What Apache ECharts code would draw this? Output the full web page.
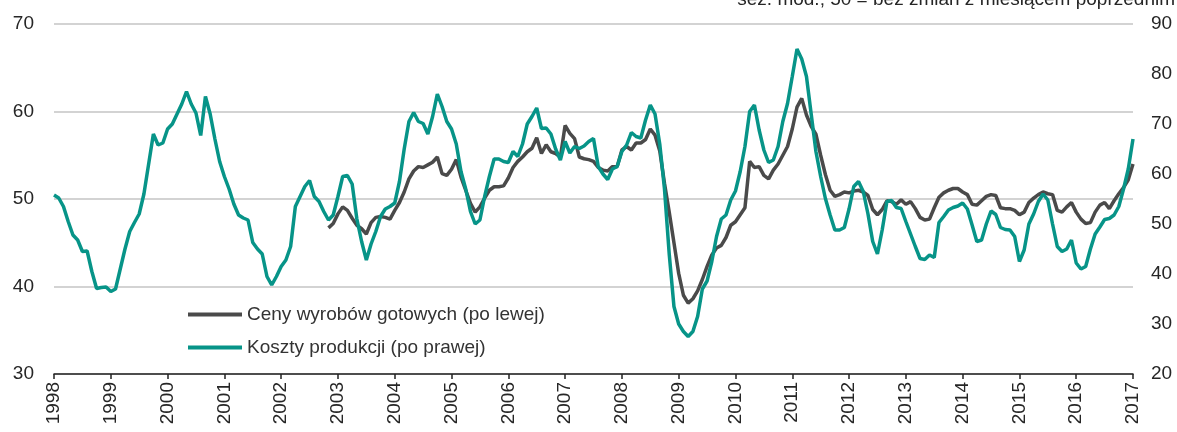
<!DOCTYPE html>
<html>
<head>
<meta charset="utf-8">
<script src="https://cdn.jsdelivr.net/npm/echarts@6/dist/echarts.min.js"></script>
<style>
  html, body { margin: 0; padding: 0; background: #fff; }
  #chart { width: 1177px; height: 432px; }
</style>
</head>
<body>
<div id="chart"></div>
<script>
// miesiace od 1998-01 do 2017-01
const firstYear = 1998
const lastYear = 2017
const months = []
for (let y = firstYear; y <= lastYear; y++) {
  for (let m = 1; m <= 12; m++) {
    if (y === lastYear && m > 1) break
    months.push(y + '-' + (m < 10 ? '0' + m : m))
  }
}

const nameCeny = 'Ceny wyrobów gotowych (po lewej)'
const nameKoszty = 'Koszty produkcji (po prawej)'
const noteText = 'sez. mod.; 50 = bez zmian z miesiącem poprzednim'

// ceny wyrobow gotowych - od 2002-11 (lewa os)
const cenyStart = '2002-11'
const ceny = [
  46.7, 47.2,
  48.3, 49.1, 48.7, 47.8, 47.0, 46.6, 46.0, 47.3, 47.9, 48.0, 47.9, 47.7,
  48.7, 49.6, 50.8, 52.3, 53.2, 53.7, 53.6, 53.9, 54.2, 54.8, 52.9, 52.7,
  53.4, 54.5, 52.5, 51.0, 49.5, 48.5, 49.1, 50.1, 51.0, 51.4, 51.4, 51.5,
  52.4, 53.6, 54.3, 54.8, 55.4, 55.8, 57.0, 55.2, 56.2, 55.4, 55.2, 54.8,
  58.4, 57.5, 56.9, 54.8, 54.6, 54.5, 54.3, 53.6, 53.3, 53.2, 53.7, 53.7,
  55.6, 56.0, 55.6, 56.4, 56.4, 56.8, 58.0, 57.3, 55.5, 51.8, 48.5, 45.0,
  41.5, 39.0, 38.1, 38.6, 39.5, 40.8, 42.3, 43.6, 44.4, 44.7, 45.6, 47.0,
  47.4, 48.2, 49.0, 54.3, 53.6, 53.7, 52.7, 52.3, 53.3, 54.0, 55.0, 56.0,
  58.0, 60.5, 61.5, 59.6, 58.3, 57.4, 55.0, 52.8, 51.0, 50.3, 50.5, 50.8,
  50.7, 50.9, 51.0, 50.8, 50.4, 48.8, 48.2, 48.8, 49.8, 49.7, 49.4, 49.9,
  49.4, 49.7, 48.9, 47.9, 47.6, 47.7, 49.0, 50.2, 50.7, 51.0, 51.2, 51.2,
  50.8, 50.5, 49.4, 49.3, 49.8, 50.3, 50.5, 50.4, 49.0, 48.9, 48.9, 48.7,
  48.2, 48.5, 49.6, 50.1, 50.5, 50.8, 50.6, 50.5, 48.7, 48.5, 49.1, 49.6,
  48.5, 47.7, 47.2, 47.3, 48.5, 49.3, 49.6, 48.9, 49.8, 50.6, 51.3, 52.2,
  54.0
]

// koszty produkcji - od 1998-01 (prawa os)
const koszty = [
  55.8, 55.2, 53.5, 50.5, 47.8, 46.8, 44.5, 44.6, 40.5, 37.1, 37.3, 37.4,
  36.5, 37.0, 41.0, 45.0, 48.5, 50.3, 52.0, 56.0, 62.0, 68.0, 65.8, 66.2,
  69.0, 70.0, 72.0, 74.0, 76.5, 74.0, 72.2, 67.7, 75.5, 72.0, 67.0, 62.5,
  59.5, 57.0, 54.0, 51.8, 51.2, 50.8, 46.3, 45.0, 44.0, 39.5, 37.8, 39.5,
  41.5, 42.8, 45.5, 53.5, 55.5, 57.5, 58.7, 55.5, 54.5, 52.5, 50.8, 51.8,
  55.5, 59.5, 59.7, 58.0, 51.0, 46.5, 42.8, 46.0, 48.5, 51.5, 53.0, 53.5,
  54.2, 58.5, 65.0, 70.5, 72.3, 70.5, 70.1, 68.0, 71.5, 76.0, 73.5, 70.5,
  69.0, 66.0, 60.5, 57.0, 52.5, 50.0, 50.8, 55.5, 59.5, 63.0, 63.0, 62.5,
  62.3, 64.5, 63.5, 66.0, 70.0, 71.5, 73.2, 69.1, 69.2, 68.0, 65.0, 62.8,
  66.5, 64.2, 65.5, 65.1, 65.6, 66.5, 67.1, 61.5, 60.0, 58.9, 61.0, 61.5,
  64.5, 65.8, 68.3, 67.5, 67.2, 70.8, 73.8, 72.0, 66.0, 57.0, 44.0, 33.5,
  30.0, 28.5, 27.5, 28.5, 31.5, 37.0, 38.6, 42.5, 47.5, 51.0, 51.8, 54.8,
  56.6, 60.5, 65.5, 72.5, 73.8, 68.8, 64.8, 62.3, 62.8, 65.5, 70.5, 74.1,
  79.5, 85.0, 83.0, 79.5, 72.0, 64.5, 59.5, 55.1, 51.8, 48.8, 48.8, 49.3,
  53.0, 57.5, 58.5, 56.5, 52.0, 46.5, 44.0, 48.8, 54.5, 54.7, 53.3, 53.1,
  50.5, 48.0, 45.5, 43.1, 42.9, 43.8, 43.3, 50.3, 51.5, 52.8, 53.3, 53.6,
  54.2, 53.0, 49.8, 46.5, 46.8, 50.0, 52.6, 51.9, 49.3, 48.9, 48.8, 47.5,
  42.5, 44.8, 50.0, 52.0, 54.5, 56.0, 54.8, 50.0, 45.5, 44.5, 45.0, 46.8,
  42.2, 41.0, 41.5, 45.0, 48.0, 49.4, 50.9, 51.1, 51.8, 53.5, 57.0, 61.0,
  67.0
]

// dopelnienie pustymi wartosciami przed startem serii
const cenyData = months.map((m, i) => {
  const k = i - months.indexOf(cenyStart)
  return k >= 0 && k < ceny.length ? ceny[k] : null
})

const isJan = (idx, val) => val.slice(5) === '01'

const chart = echarts.init(document.getElementById('chart'))
const option = {
  animation: false,
  textStyle: { fontFamily: 'Liberation Sans, Arial, sans-serif' },
  grid: { left: 54, right: 44, top: 24, bottom: 58 },
  graphic: [
    {
      type: 'text',
      right: 2,
      top: -10,
      style: { text: noteText, fontSize: 19, fill: '#262626', fontFamily: 'Liberation Sans, Arial, sans-serif' }
    }
  ],
  legend: {
    data: [nameCeny, nameKoszty],
    orient: 'vertical',
    left: 183,
    top: 300,
    itemWidth: 54,
    itemHeight: 4,
    itemGap: 14,
    icon: 'rect',
    textStyle: { fontSize: 19, color: '#333' }
  },
  xAxis: {
    type: 'category',
    data: months,
    boundaryGap: false,
    axisLine: { lineStyle: { color: '#222', width: 1.5 } },
    axisTick: { interval: isJan, length: 5, lineStyle: { color: '#222', width: 1.5 } },
    axisLabel: {
      interval: isJan,
      formatter: (v) => v.slice(0, 4),
      rotate: 90,
      margin: 8,
      fontSize: 19,
      color: '#262626'
    },
    splitLine: { show: false }
  },
  yAxis: [
    {
      type: 'value',
      min: 30,
      max: 70,
      interval: 10,
      axisLine: { show: false },
      axisTick: { show: false },
      axisLabel: { fontSize: 19, color: '#262626', margin: 20 },
      splitLine: { lineStyle: { color: '#c4c4c4', width: 1.5 } }
    },
    {
      type: 'value',
      min: 20,
      max: 90,
      interval: 10,
      position: 'right',
      axisLine: { show: false },
      axisTick: { show: false },
      axisLabel: { fontSize: 19, color: '#262626', margin: 18 },
      splitLine: { show: false }
    }
  ],
  series: [
    {
      name: nameCeny,
      type: 'line',
      yAxisIndex: 0,
      data: cenyData,
      symbol: 'none',
      color: '#4a4a4a',
      lineStyle: { width: 3.5, color: '#4a4a4a' }
    },
    {
      name: nameKoszty,
      type: 'line',
      yAxisIndex: 1,
      data: koszty,
      symbol: 'none',
      color: '#079488',
      lineStyle: { width: 3.5, color: '#079488' }
    }
  ]
}
chart.setOption(option)
</script>
</body>
</html>
